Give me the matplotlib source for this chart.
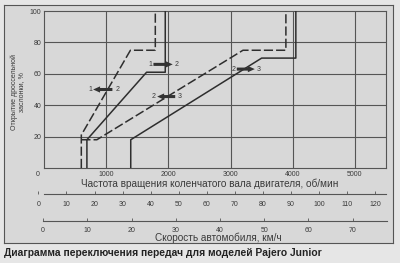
import matplotlib
matplotlib.use("Agg")
import matplotlib.pyplot as plt
from matplotlib.patches import Rectangle
from matplotlib.transforms import ScaledTranslation

plt.rcParams['font.family'] = ['Liberation Sans', 'DejaVu Sans']

# ---- data ----
rpm_ticks = [0, 1000, 2000, 3000, 4000, 5000]
thr_ticks = [20, 40, 60, 80, 100]
speed1_ticks = [0, 10, 20, 30, 40, 50, 60, 70, 80, 90, 100, 110, 120]
speed2_ticks = [0, 10, 20, 30, 40, 50, 60, 70]

# shift lines: (rpm, throttle %)
rpm_12_down = [600, 600, 1390, 1790, 1790]
thr_12_down = [0, 21, 75, 75, 100]
rpm_12_up = [690, 690, 1650, 1950, 1950]
thr_12_up = [0, 18, 61, 61, 100]
rpm_23_down = [600, 850, 3200, 3890, 3890]
thr_23_down = [18, 18, 75, 75, 100]
rpm_23_up = [1395, 1395, 3500, 4050, 4050]
thr_23_up = [0, 18, 70, 70, 100]

# arrows: left label, right label, x from, x to (head), y, label x left, label x right
arrow_from = [1100, 1760, 2110, 3100]
arrow_to = [790, 2070, 1820, 3390]
arrow_y = [50, 66, 45.5, 63]
arrow_lab_l = ['1', '1', '2', '2']
arrow_lab_r = ['2', '2', '3', '3']
arrow_lab_lx = [742, 1706, 1770, 3055]
arrow_lab_rx = [1177, 2140, 2188, 3456]

rpm_label = 'Частота вращения коленчатого вала двигателя, об/мин'
thr_label = 'Открытие дроссельной\nзаслонки, %'
speed_label = 'Скорость автомобиля, км/ч'
caption = 'Диаграмма переключения передач для моделей Pajero Junior'

W, H = 400, 263
fig = plt.figure(figsize=(4, 2.63), dpi=100, facecolor='#e6e6e6')

def fx(px):
    return px / W

def fy(py):
    return 1 - py / H

frame_col = '#d8d8d8'
txt = '#3a3a3a'
bg = fig.add_axes([fx(4), fy(243), fx(393) - fx(4), fy(5) - fy(243)], zorder=-5)
bg.set_facecolor(frame_col)
bg.set_xticks([])
bg.set_yticks([])
for s in bg.spines.values():
    s.set_color('#555555')
    s.set_linewidth(0.8)

# main axes
ax = fig.add_axes([fx(44), fy(168), fx(386) - fx(44), fy(11) - fy(168)], zorder=1)
ax.set_facecolor(frame_col)
ax.set_xlim(0, 5500)
ax.set_ylim(0, 100)
ax.set_xticks(rpm_ticks)
ax.set_xticklabels([str(v) for v in rpm_ticks])
ax.set_yticks(thr_ticks)
ax.set_yticklabels([str(v) for v in thr_ticks])
ax.tick_params(length=0, labelsize=5, colors=txt, pad=2)
ax.tick_params(axis='y', pad=2)
lbl0 = ax.get_xticklabels()[0]
lbl0.set_transform(lbl0.get_transform() + ScaledTranslation(-6 / 100, 0, fig.dpi_scale_trans))
for v in rpm_ticks[1:]:
    ax.axvline(v, color='#555555', lw=0.8, zorder=1)
for v in thr_ticks[:-1]:
    ax.axhline(v, color='#555555', lw=0.8, zorder=1)
for s in ax.spines.values():
    s.set_color('#555555')
    s.set_linewidth(0.8)

lc = '#2e2e2e'
ax.plot(rpm_12_down, thr_12_down, color=lc, lw=1.1, dashes=(6, 2), zorder=3)
ax.plot(rpm_12_up, thr_12_up, color=lc, lw=1.1, zorder=3)
ax.plot(rpm_23_down, thr_23_down, color=lc, lw=1.1, dashes=(6, 2), zorder=3)
ax.plot(rpm_23_up, thr_23_up, color=lc, lw=1.1, zorder=3)

for i in range(len(arrow_from)):
    ax.annotate('', xy=(arrow_to[i], arrow_y[i]), xytext=(arrow_from[i], arrow_y[i]),
                arrowprops=dict(arrowstyle='simple,head_length=0.5,head_width=0.45,tail_width=0.22',
                                color='#333333', lw=0, shrinkA=0, shrinkB=0), zorder=4)
    ax.text(arrow_lab_lx[i], arrow_y[i], arrow_lab_l[i], fontsize=5, color=txt,
            ha='center', va='center', zorder=4)
    ax.text(arrow_lab_rx[i], arrow_y[i], arrow_lab_r[i], fontsize=5, color=txt,
            ha='center', va='center', zorder=4)

fig.text(fx(210), fy(184), rpm_label, fontsize=7.2, color=txt, ha='center', va='center')
fig.text(fx(18), fy(92), thr_label, fontsize=5, color=txt, ha='center', va='center',
         rotation=90, multialignment='center', linespacing=1.0)

# speed axis 1 (0 at px 38.4, 2.805 px per km/h)
a1_left, a1_right = 38.4, 386
ax1 = fig.add_axes([fx(a1_left), fy(194.3), fx(a1_right) - fx(a1_left), 0.005], zorder=1)
ax1.set_xlim(0, (a1_right - a1_left) / 2.805)
ax1.set_ylim(0, 1)
ax1.patch.set_alpha(0)
for k in ['top', 'left', 'right']:
    ax1.spines[k].set_visible(False)
ax1.spines['bottom'].set_bounds((44 - a1_left) / 2.805, (a1_right - a1_left) / 2.805)
ax1.spines['bottom'].set_color('#555555')
ax1.spines['bottom'].set_linewidth(0.8)
ax1.set_yticks([])
ax1.set_xticks(speed1_ticks)
ax1.set_xticklabels([str(v) for v in speed1_ticks])
ax1.tick_params(axis='x', direction='in', length=2, width=0.6, color='#555555',
                labelsize=5, labelcolor=txt, pad=5)

# speed axis 2 (0 at px 43.1, 4.423 px per km/h)
a2_left, a2_right = 43.1, 386.7
ax2 = fig.add_axes([fx(a2_left), fy(221), fx(a2_right) - fx(a2_left), 0.005], zorder=1)
ax2.set_xlim(0, (a2_right - a2_left) / 4.423)
ax2.set_ylim(0, 1)
ax2.patch.set_alpha(0)
for k in ['top', 'left', 'right']:
    ax2.spines[k].set_visible(False)
ax2.spines['bottom'].set_color('#555555')
ax2.spines['bottom'].set_linewidth(0.8)
ax2.set_yticks([])
ax2.set_xticks(speed2_ticks)
ax2.set_xticklabels([str(v) for v in speed2_ticks])
ax2.tick_params(axis='x', direction='in', length=2, width=0.6, color='#555555',
                labelsize=5, labelcolor=txt, pad=4)

fig.text(fx(218), fy(237.3), speed_label, fontsize=7.2, color=txt, ha='center', va='center')
fig.text(fx(4), fy(253), caption, fontsize=7.4, fontweight='bold', color='#222222',
         ha='left', va='center')

fig.savefig('out.png', dpi=100, facecolor=fig.get_facecolor())
